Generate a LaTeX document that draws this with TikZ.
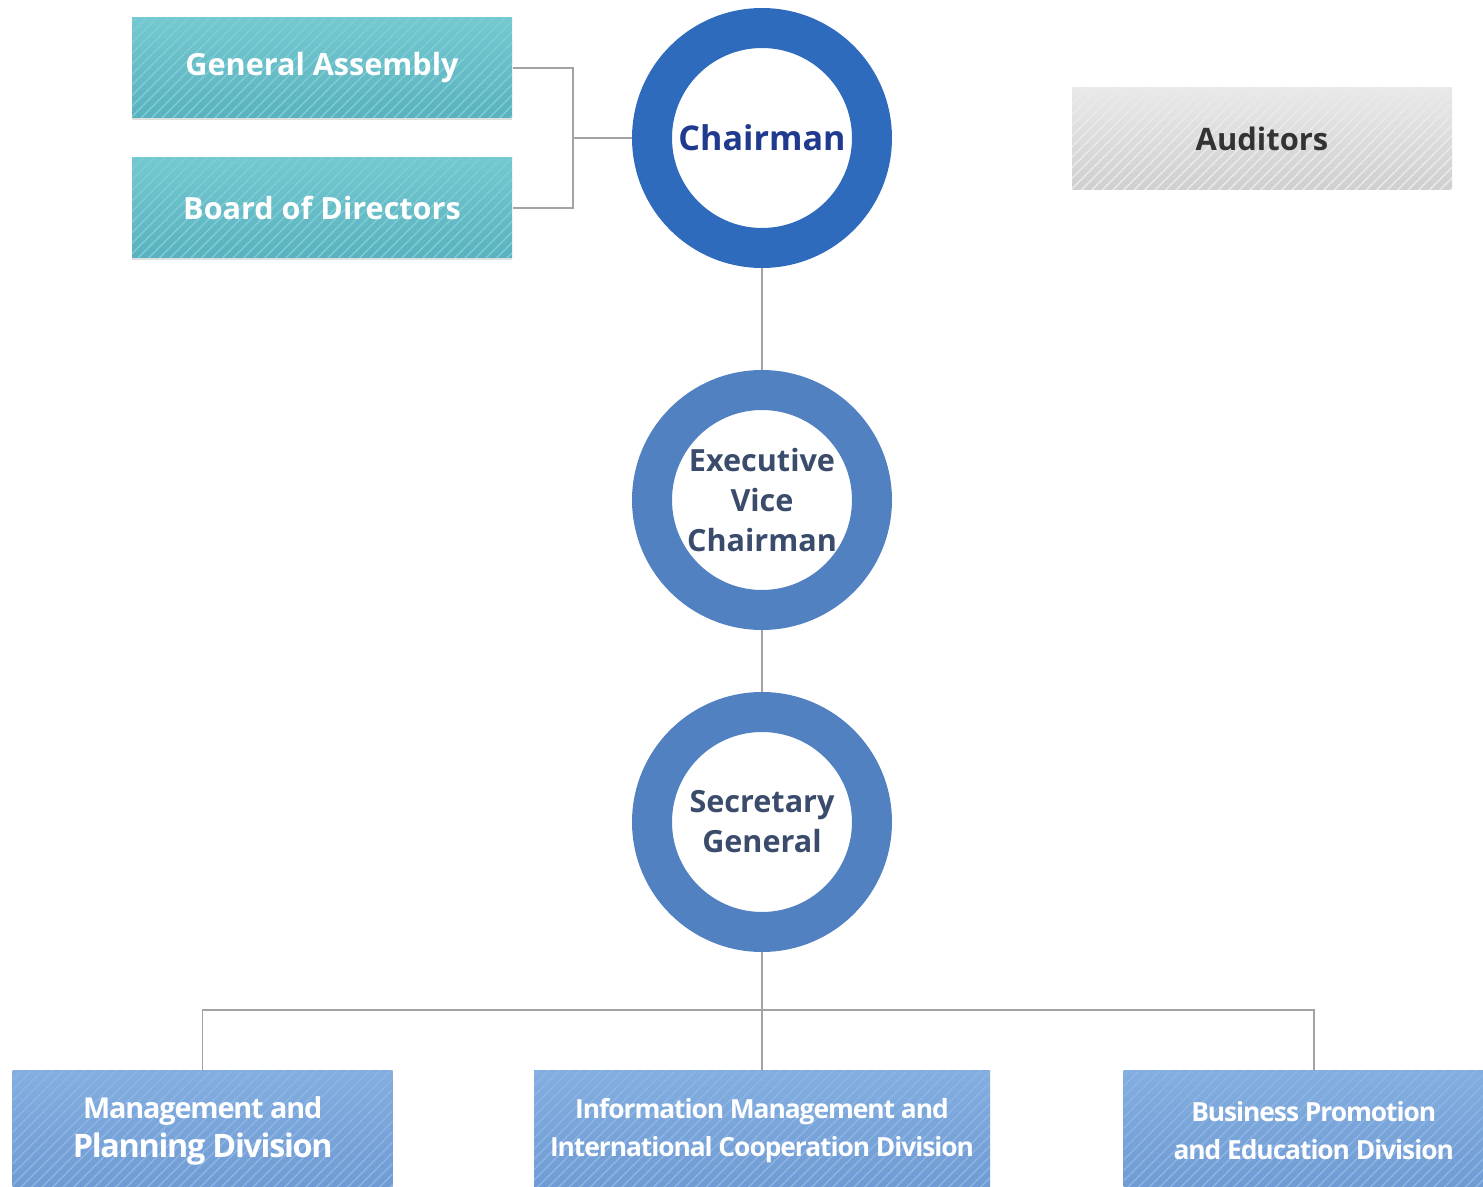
\documentclass[tikz,border=0pt]{standalone}
\usepackage{fontspec}
\setmainfont{Open Sans}
\usepackage{tikz}
\usetikzlibrary{ calc, patterns, positioning, shadows }
\definecolor{tealtop}{HTML}{74C8D0}
\definecolor{tealbot}{HTML}{5AB2BE}
\definecolor{ringdark}{HTML}{2F6BBD}
\definecolor{ringlight}{HTML}{5281C2}
\definecolor{navytext}{HTML}{1F3A8E}
\definecolor{slatetext}{HTML}{3A4B6C}
\definecolor{divtop}{HTML}{84AEE0}
\definecolor{divbot}{HTML}{6E9BD4}
\definecolor{graytop}{HTML}{E9E9E9}
\definecolor{graybot}{HTML}{CFCFCF}
\definecolor{linegray}{HTML}{A3A3A3}
\tikzset{
node distance=1cm, % gap between the rings
every node/.style={inner sep=1pt, align=center}, % all labels centred
link/.style={draw=linegray, line width=0.45pt}, % thin grey connectors
hatch/.style={postaction={pattern=north east lines, pattern color=#1}}, % fine stripes
tealbox/.style={rectangle, minimum width=3.8cm, minimum height=1cm, top color=tealtop, bottom color=tealbot,
  text=white, font=\fontsize{8.7}{11}\selectfont\bfseries, hatch=tealtop!92!white,
  drop shadow={shadow xshift=0pt, shadow yshift=-0.7pt, opacity=0.25}},
graybox/.style={rectangle, minimum width=3.8cm, minimum height=1.02cm, top color=graytop, bottom color=graybot,
  text=black!80, font=\fontsize{8.8}{11}\selectfont\bfseries, hatch=graytop!94!white},
divbox/.style={rectangle, minimum height=1.2cm, top color=divtop, bottom color=divbot,
  text=white, font=\fontsize{7.5}{11}\selectfont\bfseries\addfontfeature{LetterSpace=-4}, hatch=divtop!92!white},
ring/.style={circle, draw=#1, line width=0.4cm, minimum size=2.2cm, fill=white, inner sep=0pt},
}

\begin{document}
\begin{tikzpicture}
  \useasboundingbox (0,0) rectangle (14.83,-11.87);

  \node[ring=ringdark, text=navytext, font=\fontsize{9.7}{12}\selectfont\bfseries] (chair) at (7.62,-1.38) {Chairman};
  \node[ring=ringlight, text=slatetext, font=\fontsize{8.7}{11.4}\selectfont\bfseries, below=1.02cm of chair] (evc) {Executive\\Vice\\Chairman};
  \node[ring=ringlight, text=slatetext, font=\fontsize{8.7}{11.4}\selectfont\bfseries, below=0.62cm of evc] (sg) {Secretary\\General};

  \node[tealbox] (ga) at (3.22,-0.68) {General Assembly};
  \node[tealbox] (bod) at (3.22,-2.08) {Board of Directors};
  \node[graybox] (aud) at (12.62,-1.39) {Auditors};

  \node[divbox, minimum width=3.8cm, anchor=north west] (mpd) at (0.12,-10.70) {{\fontsize{8.2}{11}\selectfont Management and}\\{\fontsize{9.2}{11}\selectfont Planning Division}};
  \node[divbox, minimum width=4.56cm, anchor=north] (imd) at (7.62,-10.70) {Information Management and\\International Cooperation Division};
  \node[divbox, minimum width=3.8cm, anchor=north west] (bpd) at (11.23,-10.70) {Business Promotion\\and Education Division};

  \coordinate (jn) at (5.73,-1.38);
  \coordinate (bus) at (7.62,-10.10);

  \path[link]
  (ga.east) -| (jn) |- (bod.east)
  (jn) -- (chair)
  (chair) -- (evc)
  (evc) -- (sg)
  (sg) -- (imd.north)
  (mpd.north) |- (bus) -| (bpd.north);
\end{tikzpicture}
\end{document}
